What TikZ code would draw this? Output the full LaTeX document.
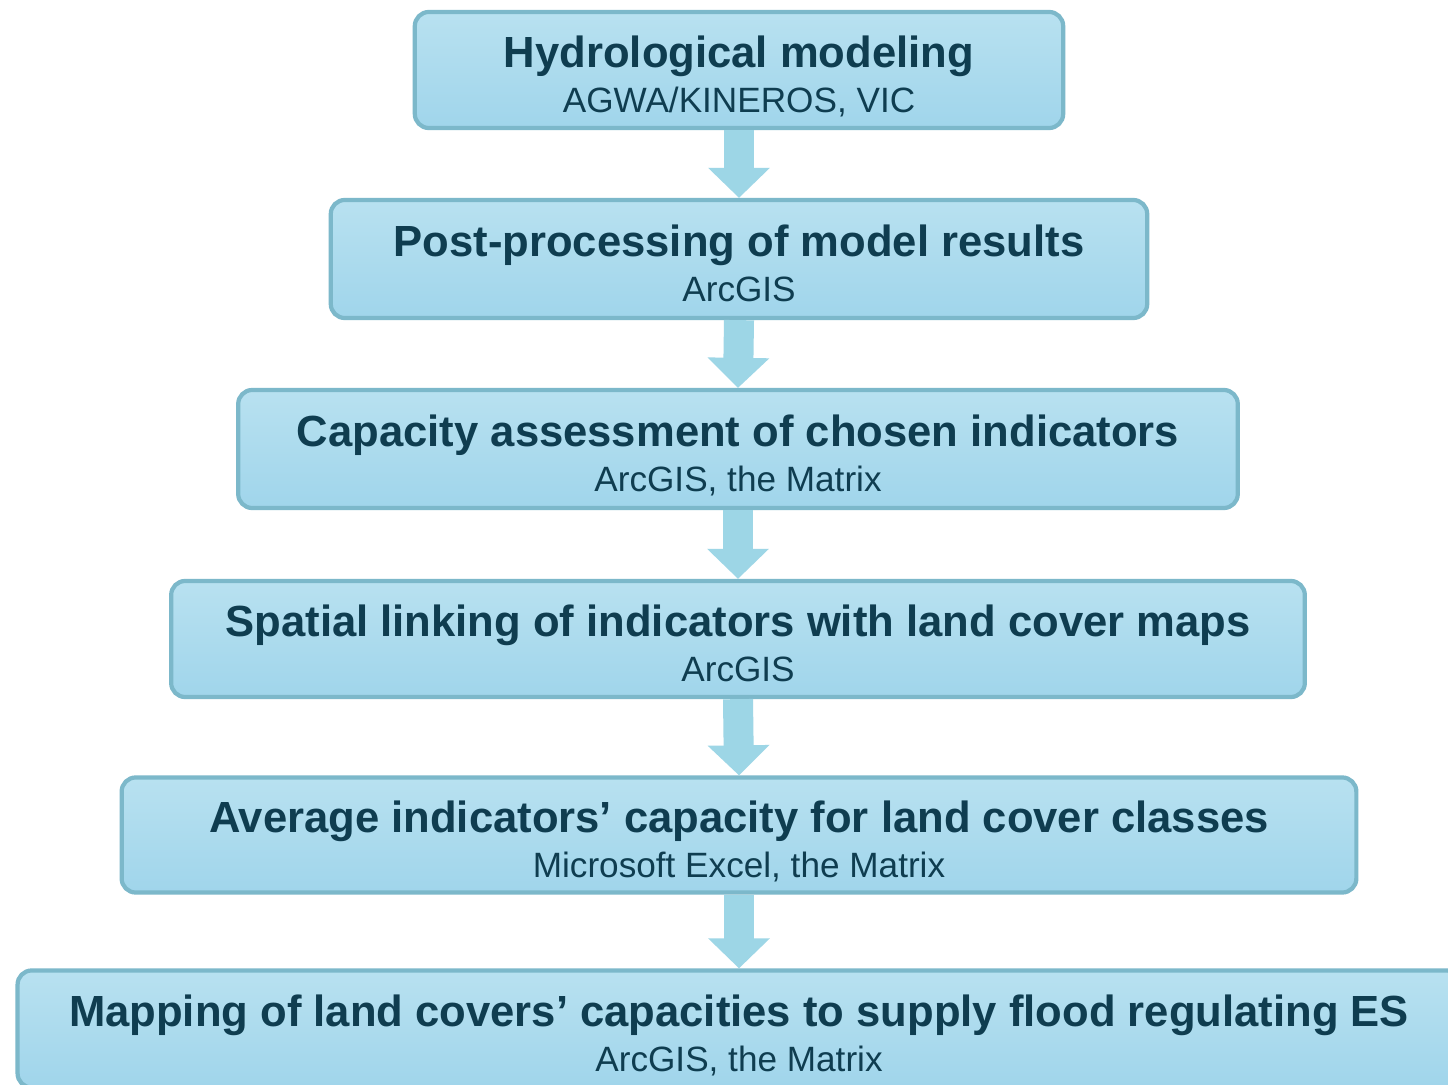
\documentclass[tikz,border=0pt]{standalone}
\usepackage{fontspec}
\setmainfont{Liberation Sans}
\usetikzlibrary{arrows.meta}
\definecolor{boxtop}{HTML}{B8E1F0}
\definecolor{boxbot}{HTML}{A0D5EB}
\definecolor{boxline}{HTML}{7CB8CA}
\definecolor{ink}{HTML}{0F3D50}
\definecolor{arrowfill}{HTML}{9DD6E6}
\newcommand{\toolname}[1]{{\fontsize{10}{13}\selectfont #1}}
\tikzset{
  stepbox/.style={draw=boxline, line width=1.2pt, rounded corners=4pt,
    top color=boxtop, bottom color=boxbot, text=ink, align=center,
    inner sep=0pt, font=\fontsize{12.4}{13}\selectfont,
    text height=26.4pt, text depth=2pt},
  flow/.style={draw=arrowfill, line width=0.3cm,
    -{Triangle[width=0.6cm, length=0.3cm]}}
}
\begin{document}
\begin{tikzpicture}[x=0.01cm, y=-0.01cm]
      \fill[white] (0,0) rectangle (1448,1085);
      \useasboundingbox (0,0) rectangle (1448,1085);
      \node[stepbox, minimum width=6.48cm, minimum height=1.16cm] (hydro) at (739,70)
        {\textbf{Hydrological modeling}\\\toolname{AGWA/KINEROS, VIC}}; % top
      \node[stepbox, minimum width=8.16cm, minimum height=1.18cm] (post) at (739,259)
        {\textbf{Post-processing of model results}\\\toolname{ArcGIS}};
      \node[stepbox, minimum width=9.99cm, minimum height=1.18cm] (capacity) at (738,449)
        {\textbf{Capacity assessment of chosen indicators}\\\toolname{ArcGIS, the Matrix}};
      \node[stepbox, minimum width=11.33cm, minimum height=1.16cm] (linking) at (738,639)
        {\textbf{Spatial linking of indicators with land cover maps}\\\toolname{ArcGIS}};
      \node[stepbox, minimum width=12.34cm, minimum height=1.15cm] (average) at (739,835)
        {\textbf{Average indicators' capacity for land cover classes}\\\toolname{Microsoft Excel, the Matrix}};
      \node[stepbox, minimum width=14.42cm, minimum height=1.17cm] (mapping) at (739,1029)
        {\textbf{Mapping of land covers' capacities to supply flood regulating ES}\\\toolname{ArcGIS, the Matrix}}; % bottom
      \foreach \a/\b in {hydro/post, post/capacity, capacity/linking, linking/average, average/mapping}
        \draw[flow] (\a.south) -- (\b.north);
    \end{tikzpicture}
\end{document}
